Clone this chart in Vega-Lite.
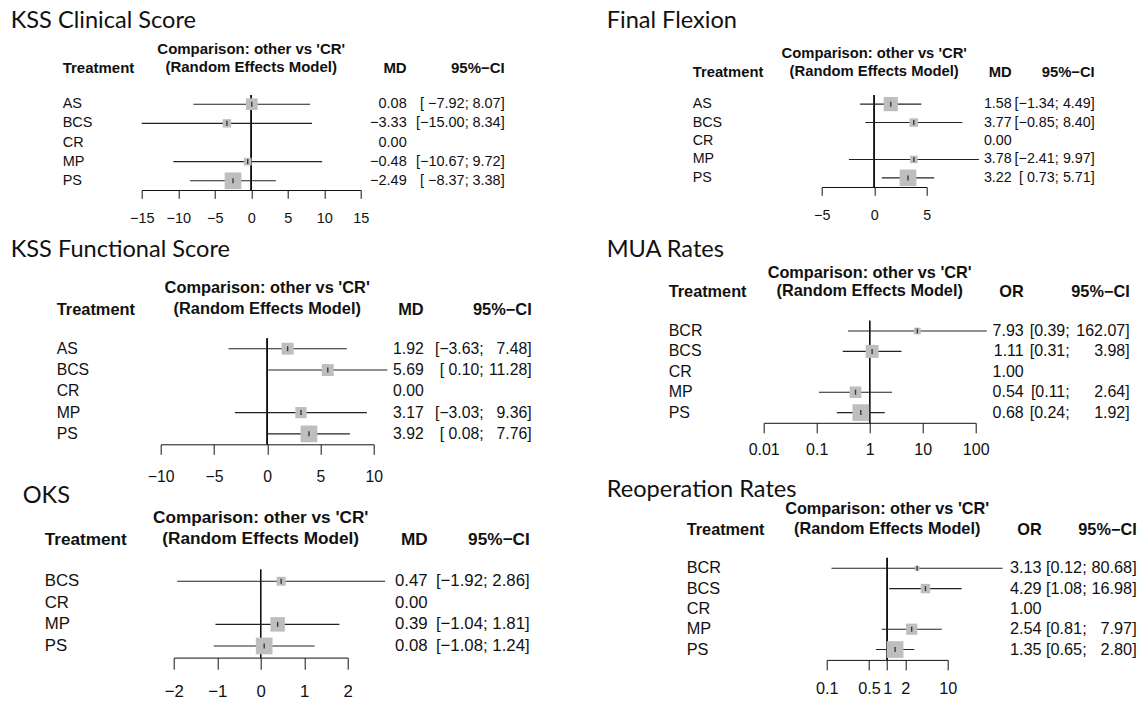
{
  "$schema": "https://vega.github.io/schema/vega-lite/v6.json",
  "autosize": {"type": "pad"},
  "padding": {"left": 10.7, "top": 8, "right": 0, "bottom": 0},
  "background": "white",
  "config": {
    "view": {"stroke": null},
    "axis": {"grid": false, "labelFont": "Liberation Sans", "labelColor": "#111", "domainColor": "#111", "tickColor": "#111", "labelFlush": false, "labelOverlap": false, "domainWidth": 1, "tickWidth": 1}
  },
  "datasets": {
    "A": [
      {"t": "AS", "est": 0.08, "lo": -7.92, "hi": 8.07, "w": 49, "md": "0.08", "cil": "[ −7.92;", "ciu": "8.07]"},
      {"t": "BCS", "est": -3.33, "lo": -15.0, "hi": 8.34, "w": 25, "md": "−3.33", "cil": "[−15.00;", "ciu": "8.34]"},
      {"t": "CR", "est": 0, "lo": null, "hi": null, "w": null, "md": "0.00", "cil": "", "ciu": ""},
      {"t": "MP", "est": -0.48, "lo": -10.67, "hi": 9.72, "w": 21, "md": "−0.48", "cil": "[−10.67;", "ciu": "9.72]"},
      {"t": "PS", "est": -2.49, "lo": -8.37, "hi": 3.38, "w": 100, "md": "−2.49", "cil": "[ −8.37;", "ciu": "3.38]"}
    ],
    "B": [
      {"t": "AS", "est": 1.58, "lo": -1.34, "hi": 4.49, "w": 72, "md": "1.58", "cil": "[−1.34;", "ciu": "4.49]"},
      {"t": "BCS", "est": 3.77, "lo": -0.85, "hi": 8.4, "w": 26, "md": "3.77", "cil": "[−0.85;", "ciu": "8.40]"},
      {"t": "CR", "est": 0, "lo": null, "hi": null, "w": null, "md": "0.00", "cil": "", "ciu": ""},
      {"t": "MP", "est": 3.78, "lo": -2.41, "hi": 9.97, "w": 20, "md": "3.78", "cil": "[−2.41;", "ciu": "9.97]"},
      {"t": "PS", "est": 3.22, "lo": 0.73, "hi": 5.71, "w": 100, "md": "3.22", "cil": "[ 0.73;", "ciu": "5.71]"}
    ],
    "C": [
      {"t": "AS", "est": 1.92, "lo": -3.63, "hi": 7.48, "w": 51, "md": "1.92", "cil": "[−3.63;", "ciu": "7.48]"},
      {"t": "BCS", "est": 5.69, "lo": 0.1, "hi": 11.28, "w": 51, "md": "5.69", "cil": "[ 0.10;", "ciu": "11.28]"},
      {"t": "CR", "est": 0, "lo": null, "hi": null, "w": null, "md": "0.00", "cil": "", "ciu": ""},
      {"t": "MP", "est": 3.17, "lo": -3.03, "hi": 9.36, "w": 45, "md": "3.17", "cil": "[−3.03;", "ciu": "9.36]"},
      {"t": "PS", "est": 3.92, "lo": 0.08, "hi": 7.76, "w": 100, "md": "3.92", "cil": "[ 0.08;", "ciu": "7.76]"}
    ],
    "D": [
      {"t": "BCR", "est": 7.93, "lo": 0.39, "hi": 162.07, "w": 16, "md": "7.93", "cil": "[0.39;", "ciu": "162.07]"},
      {"t": "BCS", "est": 1.11, "lo": 0.31, "hi": 3.98, "w": 60, "md": "1.11", "cil": "[0.31;", "ciu": "3.98]"},
      {"t": "CR", "est": 1, "lo": null, "hi": null, "w": null, "md": "1.00", "cil": "", "ciu": ""},
      {"t": "MP", "est": 0.54, "lo": 0.11, "hi": 2.64, "w": 48, "md": "0.54", "cil": "[0.11;", "ciu": "2.64]"},
      {"t": "PS", "est": 0.68, "lo": 0.24, "hi": 1.92, "w": 100, "md": "0.68", "cil": "[0.24;", "ciu": "1.92]"}
    ],
    "E": [
      {"t": "BCS", "est": 0.47, "lo": -1.92, "hi": 2.86, "w": 29, "md": "0.47", "cil": "[−1.92;", "ciu": "2.86]"},
      {"t": "CR", "est": 0, "lo": null, "hi": null, "w": null, "md": "0.00", "cil": "", "ciu": ""},
      {"t": "MP", "est": 0.39, "lo": -1.04, "hi": 1.81, "w": 75, "md": "0.39", "cil": "[−1.04;", "ciu": "1.81]"},
      {"t": "PS", "est": 0.08, "lo": -1.08, "hi": 1.24, "w": 100, "md": "0.08", "cil": "[−1.08;", "ciu": "1.24]"}
    ],
    "F": [
      {"t": "BCR", "est": 3.13, "lo": 0.12, "hi": 80.68, "w": 8, "md": "3.13", "cil": "[0.12;", "ciu": "80.68]"},
      {"t": "BCS", "est": 4.29, "lo": 1.08, "hi": 16.98, "w": 32, "md": "4.29", "cil": "[1.08;", "ciu": "16.98]"},
      {"t": "CR", "est": 1, "lo": null, "hi": null, "w": null, "md": "1.00", "cil": "", "ciu": ""},
      {"t": "MP", "est": 2.54, "lo": 0.81, "hi": 7.97, "w": 45, "md": "2.54", "cil": "[0.81;", "ciu": "7.97]"},
      {"t": "PS", "est": 1.35, "lo": 0.65, "hi": 2.8, "w": 100, "md": "1.35", "cil": "[0.65;", "ciu": "2.80]"}
    ]
  },
  "spacing": 75,
  "hconcat": [
    {
      "spacing": 12.3,
      "vconcat": [
        {
          "title": {"text": "KSS Clinical Score", "anchor": "start", "frame": "group", "font": "Lato", "fontSize": 23.6, "fontWeight": "normal", "color": "#111", "offset": 9.1},
          "bounds": "flush", "spacing": 79,
          "hconcat": [
            {"width": 52, "height": 95, "data": {"name": "A"},
             "title": {"text": "Treatment", "anchor": "end", "align": "left", "frame": "group", "offset": 19.25, "font": "Liberation Sans", "fontSize": 15, "fontWeight": "bold", "color": "#111"},
             "mark": {"type": "text", "x": "width", "align": "left", "baseline": "middle", "font": "Liberation Sans", "fontSize": 14.5, "color": "#111"},
             "encoding": {"y": {"field": "t", "type": "nominal", "axis": null, "scale": {"type": "point", "padding": 0.48, "domain": ["AS", "BCS", "CR", "MP", "PS"]}}, "text": {"field": "t"}}},
            {"bounds": "flush", "spacing": 0, "hconcat": [
              {"width": 219, "height": 95, "data": {"name": "A"},
               "title": {"text": ["Comparison: other vs 'CR'", "(Random Effects Model)"], "anchor": "middle", "frame": "group", "offset": 19.25, "lineHeight": 18.4, "font": "Liberation Sans", "fontSize": 15, "fontWeight": "bold", "color": "#111"},
               "layer": [
                 {"mark": {"type": "rule", "color": "#111", "strokeWidth": 1},
                  "encoding": {"x": {"datum": 0, "type": "quantitative", "title": null, "scale": {"domain": [-15, 15], "nice": false, "zero": false},
                    "axis": {"title": null, "values": [-15, -10, -5, 0, 5, 10, 15], "tickCount": 20, "format": "d", "tickSize": 8.3, "labelPadding": 13, "labelFontSize": 14.5, "labelOverlap": false, "labelFlush": false}}}},
                 {"transform": [{"filter": "datum.lo != null"}], "mark": {"type": "rule", "color": "#222", "strokeWidth": 1.1},
                  "encoding": {"x": {"field": "lo", "type": "quantitative", "title": null}, "x2": {"field": "hi"},
                    "y": {"field": "t", "type": "nominal", "axis": null, "scale": {"type": "point", "padding": 0.48, "domain": ["AS", "BCS", "CR", "MP", "PS"]}}}},
                 {"transform": [{"filter": "datum.lo != null"}], "mark": {"type": "point", "shape": "square", "filled": true, "color": "#bebebe", "opacity": 1, "strokeWidth": 0},
                  "encoding": {"x": {"field": "est", "type": "quantitative", "title": null},
                    "y": {"field": "t", "type": "nominal", "axis": null},
                    "size": {"field": "w", "type": "quantitative", "legend": null, "scale": {"domain": [0, 100], "range": [0, 279]}}}},
                 {"transform": [{"filter": "datum.lo != null"}], "mark": {"type": "tick", "orient": "vertical", "size": 5, "thickness": 1.4, "color": "#000"},
                  "encoding": {"x": {"field": "est", "type": "quantitative", "title": null}, "y": {"field": "t", "type": "nominal", "axis": null}}}
               ]},
              {"width": 46, "height": 95, "data": {"name": "A"},
               "title": {"text": "MD", "anchor": "end", "frame": "group", "offset": 19.25, "font": "Liberation Sans", "fontSize": 15, "fontWeight": "bold", "color": "#111"},
               "mark": {"type": "text", "x": "width", "align": "right", "baseline": "middle", "font": "Liberation Sans", "fontSize": 14.5, "color": "#111"},
               "encoding": {"y": {"field": "t", "type": "nominal", "axis": null, "scale": {"type": "point", "padding": 0.48, "domain": ["AS", "BCS", "CR", "MP", "PS"]}}, "text": {"field": "md"}}},
              {"width": 62, "height": 95, "data": {"name": "A"},
               "mark": {"type": "text", "x": "width", "align": "right", "baseline": "middle", "font": "Liberation Sans", "fontSize": 14.5, "color": "#111"},
               "encoding": {"y": {"field": "t", "type": "nominal", "axis": null, "scale": {"type": "point", "padding": 0.48, "domain": ["AS", "BCS", "CR", "MP", "PS"]}}, "text": {"field": "cil"}}},
              {"width": 36, "height": 95, "data": {"name": "A"},
               "title": {"text": "95%−CI", "anchor": "end", "frame": "group", "offset": 19.25, "font": "Liberation Sans", "fontSize": 15, "fontWeight": "bold", "color": "#111"},
               "mark": {"type": "text", "x": "width", "align": "right", "baseline": "middle", "font": "Liberation Sans", "fontSize": 14.5, "color": "#111"},
               "encoding": {"y": {"field": "t", "type": "nominal", "axis": null, "scale": {"type": "point", "padding": 0.48, "domain": ["AS", "BCS", "CR", "MP", "PS"]}}, "text": {"field": "ciu"}}}
            ]}
          ]
        },
        {
          "spacing": -0.7,
          "vconcat": [
            {
              "title": {"text": "KSS Functional Score", "anchor": "start", "frame": "group", "font": "Lato", "fontSize": 23.6, "fontWeight": "normal", "color": "#111", "offset": 19},
              "bounds": "flush", "spacing": 104,
              "hconcat": [
                {"width": 46, "height": 106, "data": {"name": "C"},
                 "title": {"text": "Treatment", "anchor": "end", "align": "left", "frame": "group", "offset": 20, "font": "Liberation Sans", "fontSize": 16.4, "fontWeight": "bold", "color": "#111"},
                 "mark": {"type": "text", "x": "width", "align": "left", "baseline": "middle", "font": "Liberation Sans", "fontSize": 15.8, "color": "#111"},
                 "encoding": {"y": {"field": "t", "type": "nominal", "axis": null, "scale": {"type": "point", "padding": 0.49, "domain": ["AS", "BCS", "CR", "MP", "PS"]}}, "text": {"field": "t"}}},
                {"bounds": "flush", "spacing": 0, "hconcat": [
                  {"width": 213, "height": 106, "data": {"name": "C"},
                   "title": {"text": ["Comparison: other vs 'CR'", "(Random Effects Model)"], "anchor": "middle", "frame": "group", "offset": 20, "lineHeight": 21, "font": "Liberation Sans", "fontSize": 16.4, "fontWeight": "bold", "color": "#111"},
                   "layer": [
                     {"mark": {"type": "rule", "color": "#111", "strokeWidth": 1},
                      "encoding": {"x": {"datum": 0, "type": "quantitative", "title": null, "scale": {"domain": [-10, 10], "nice": false, "zero": false},
                        "axis": {"title": null, "values": [-10, -5, 0, 5, 10], "tickCount": 20, "format": "d", "tickSize": 10, "labelPadding": 14.8, "labelFontSize": 15.8, "labelOverlap": false, "labelFlush": false}}}},
                     {"transform": [{"filter": "datum.lo != null"}], "mark": {"type": "rule", "color": "#222", "strokeWidth": 1.1},
                      "encoding": {"x": {"field": "lo", "type": "quantitative", "title": null}, "x2": {"field": "hi"},
                        "y": {"field": "t", "type": "nominal", "axis": null, "scale": {"type": "point", "padding": 0.49, "domain": ["AS", "BCS", "CR", "MP", "PS"]}}}},
                     {"transform": [{"filter": "datum.lo != null"}], "mark": {"type": "point", "shape": "square", "filled": true, "color": "#bebebe", "opacity": 1, "strokeWidth": 0},
                      "encoding": {"x": {"field": "est", "type": "quantitative", "title": null},
                        "y": {"field": "t", "type": "nominal", "axis": null},
                        "size": {"field": "w", "type": "quantitative", "legend": null, "scale": {"domain": [0, 100], "range": [0, 256]}}}},
                     {"transform": [{"filter": "datum.lo != null"}], "mark": {"type": "tick", "orient": "vertical", "size": 5, "thickness": 1.4, "color": "#000"},
                      "encoding": {"x": {"field": "est", "type": "quantitative", "title": null}, "y": {"field": "t", "type": "nominal", "axis": null}}}
                   ]},
                  {"width": 50, "height": 106, "data": {"name": "C"},
                   "title": {"text": "MD", "anchor": "end", "frame": "group", "offset": 20, "font": "Liberation Sans", "fontSize": 16.4, "fontWeight": "bold", "color": "#111"},
                   "mark": {"type": "text", "x": "width", "align": "right", "baseline": "middle", "font": "Liberation Sans", "fontSize": 15.8, "color": "#111"},
                   "encoding": {"y": {"field": "t", "type": "nominal", "axis": null, "scale": {"type": "point", "padding": 0.49, "domain": ["AS", "BCS", "CR", "MP", "PS"]}}, "text": {"field": "md"}}},
                  {"width": 60, "height": 106, "data": {"name": "C"},
                   "mark": {"type": "text", "x": "width", "align": "right", "baseline": "middle", "font": "Liberation Sans", "fontSize": 15.8, "color": "#111"},
                   "encoding": {"y": {"field": "t", "type": "nominal", "axis": null, "scale": {"type": "point", "padding": 0.49, "domain": ["AS", "BCS", "CR", "MP", "PS"]}}, "text": {"field": "cil"}}},
                  {"width": 48, "height": 106, "data": {"name": "C"},
                   "title": {"text": "95%−CI", "anchor": "end", "frame": "group", "offset": 20, "font": "Liberation Sans", "fontSize": 16.4, "fontWeight": "bold", "color": "#111"},
                   "mark": {"type": "text", "x": "width", "align": "right", "baseline": "middle", "font": "Liberation Sans", "fontSize": 15.8, "color": "#111"},
                   "encoding": {"y": {"field": "t", "type": "nominal", "axis": null, "scale": {"type": "point", "padding": 0.49, "domain": ["AS", "BCS", "CR", "MP", "PS"]}}, "text": {"field": "ciu"}}}
                ]}
              ]
            },
            {
              "title": {"text": "OKS", "anchor": "start", "frame": "group", "font": "Lato", "fontSize": 23.6, "fontWeight": "normal", "color": "#111", "offset": 1.3, "dx": 12},
              "bounds": "flush", "spacing": 129,
              "hconcat": [
                {"width": 34, "height": 88, "data": {"name": "E"},
                 "title": {"text": "Treatment", "anchor": "end", "align": "left", "frame": "group", "offset": 21.5, "font": "Liberation Sans", "fontSize": 17.2, "fontWeight": "bold", "color": "#111"},
                 "mark": {"type": "text", "x": "width", "align": "left", "baseline": "middle", "font": "Liberation Sans", "fontSize": 16.8, "color": "#111"},
                 "encoding": {"y": {"field": "t", "type": "nominal", "axis": null, "scale": {"type": "point", "padding": 0.54, "domain": ["BCS", "CR", "MP", "PS"]}}, "text": {"field": "t"}}},
                {"bounds": "flush", "spacing": 0, "hconcat": [
                  {"width": 174, "height": 88, "data": {"name": "E"},
                   "title": {"text": ["Comparison: other vs 'CR'", "(Random Effects Model)"], "anchor": "middle", "frame": "group", "offset": 21.5, "lineHeight": 21.6, "font": "Liberation Sans", "fontSize": 17.2, "fontWeight": "bold", "color": "#111"},
                   "layer": [
                     {"mark": {"type": "rule", "color": "#111", "strokeWidth": 1},
                      "encoding": {"x": {"datum": 0, "type": "quantitative", "title": null, "scale": {"domain": [-2, 2], "nice": false, "zero": false},
                        "axis": {"title": null, "values": [-2, -1, 0, 1, 2], "tickCount": 20, "format": "d", "tickSize": 11.6, "labelPadding": 14, "labelFontSize": 16.8, "labelOverlap": false, "labelFlush": false}}}},
                     {"transform": [{"filter": "datum.lo != null"}], "mark": {"type": "rule", "color": "#222", "strokeWidth": 1.1},
                      "encoding": {"x": {"field": "lo", "type": "quantitative", "title": null}, "x2": {"field": "hi"},
                        "y": {"field": "t", "type": "nominal", "axis": null, "scale": {"type": "point", "padding": 0.54, "domain": ["BCS", "CR", "MP", "PS"]}}}},
                     {"transform": [{"filter": "datum.lo != null"}], "mark": {"type": "point", "shape": "square", "filled": true, "color": "#bebebe", "opacity": 1, "strokeWidth": 0},
                      "encoding": {"x": {"field": "est", "type": "quantitative", "title": null},
                        "y": {"field": "t", "type": "nominal", "axis": null},
                        "size": {"field": "w", "type": "quantitative", "legend": null, "scale": {"domain": [0, 100], "range": [0, 299]}}}},
                     {"transform": [{"filter": "datum.lo != null"}], "mark": {"type": "tick", "orient": "vertical", "size": 5, "thickness": 1.4, "color": "#000"},
                      "encoding": {"x": {"field": "est", "type": "quantitative", "title": null}, "y": {"field": "t", "type": "nominal", "axis": null}}}
                   ]},
                  {"width": 80, "height": 88, "data": {"name": "E"},
                   "title": {"text": "MD", "anchor": "end", "frame": "group", "offset": 21.5, "font": "Liberation Sans", "fontSize": 17.2, "fontWeight": "bold", "color": "#111"},
                   "mark": {"type": "text", "x": "width", "align": "right", "baseline": "middle", "font": "Liberation Sans", "fontSize": 16.8, "color": "#111"},
                   "encoding": {"y": {"field": "t", "type": "nominal", "axis": null, "scale": {"type": "point", "padding": 0.54, "domain": ["BCS", "CR", "MP", "PS"]}}, "text": {"field": "md"}}},
                  {"width": 60, "height": 88, "data": {"name": "E"},
                   "mark": {"type": "text", "x": "width", "align": "right", "baseline": "middle", "font": "Liberation Sans", "fontSize": 16.8, "color": "#111"},
                   "encoding": {"y": {"field": "t", "type": "nominal", "axis": null, "scale": {"type": "point", "padding": 0.54, "domain": ["BCS", "CR", "MP", "PS"]}}, "text": {"field": "cil"}}},
                  {"width": 42, "height": 88, "data": {"name": "E"},
                   "title": {"text": "95%−CI", "anchor": "end", "frame": "group", "offset": 21.5, "font": "Liberation Sans", "fontSize": 17.2, "fontWeight": "bold", "color": "#111"},
                   "mark": {"type": "text", "x": "width", "align": "right", "baseline": "middle", "font": "Liberation Sans", "fontSize": 16.8, "color": "#111"},
                   "encoding": {"y": {"field": "t", "type": "nominal", "axis": null, "scale": {"type": "point", "padding": 0.54, "domain": ["BCS", "CR", "MP", "PS"]}}, "text": {"field": "ciu"}}}
                ]}
              ]
            }
          ]
        }
      ]
    },
    {
      "spacing": 14.8,
      "vconcat": [
        {
          "title": {"text": "Final Flexion", "anchor": "start", "frame": "group", "font": "Lato", "fontSize": 23.6, "fontWeight": "normal", "color": "#111", "offset": 13.6},
          "bounds": "flush", "spacing": 129,
          "hconcat": [
            {"width": 86, "height": 92, "data": {"name": "B"},
             "title": {"text": "Treatment", "anchor": "end", "align": "left", "frame": "group", "offset": 15.7, "font": "Liberation Sans", "fontSize": 14.8, "fontWeight": "bold", "color": "#111"},
             "mark": {"type": "text", "x": "width", "align": "left", "baseline": "middle", "font": "Liberation Sans", "fontSize": 14.3, "color": "#111"},
             "encoding": {"y": {"field": "t", "type": "nominal", "axis": null, "scale": {"type": "point", "padding": 0.495, "domain": ["AS", "BCS", "CR", "MP", "PS"]}}, "text": {"field": "t"}}},
            {"bounds": "flush", "spacing": 0, "hconcat": [
              {"width": 105, "height": 92, "data": {"name": "B"},
               "title": {"text": ["Comparison: other vs 'CR'", "(Random Effects Model)"], "anchor": "middle", "frame": "group", "offset": 15.7, "lineHeight": 18, "font": "Liberation Sans", "fontSize": 14.8, "fontWeight": "bold", "color": "#111"},
               "layer": [
                 {"mark": {"type": "rule", "color": "#111", "strokeWidth": 1},
                  "encoding": {"x": {"datum": 0, "type": "quantitative", "title": null, "scale": {"domain": [-5, 5], "nice": false, "zero": false},
                    "axis": {"title": null, "values": [-5, 0, 5], "tickCount": 20, "format": "d", "tickSize": 8.3, "labelPadding": 13.4, "labelFontSize": 14.3, "labelOverlap": false, "labelFlush": false}}}},
                 {"transform": [{"filter": "datum.lo != null"}], "mark": {"type": "rule", "color": "#222", "strokeWidth": 1.1},
                  "encoding": {"x": {"field": "lo", "type": "quantitative", "title": null}, "x2": {"field": "hi"},
                    "y": {"field": "t", "type": "nominal", "axis": null, "scale": {"type": "point", "padding": 0.495, "domain": ["AS", "BCS", "CR", "MP", "PS"]}}}},
                 {"transform": [{"filter": "datum.lo != null"}], "mark": {"type": "point", "shape": "square", "filled": true, "color": "#bebebe", "opacity": 1, "strokeWidth": 0},
                  "encoding": {"x": {"field": "est", "type": "quantitative", "title": null},
                    "y": {"field": "t", "type": "nominal", "axis": null},
                    "size": {"field": "w", "type": "quantitative", "legend": null, "scale": {"domain": [0, 100], "range": [0, 225]}}}},
                 {"transform": [{"filter": "datum.lo != null"}], "mark": {"type": "tick", "orient": "vertical", "size": 5, "thickness": 1.4, "color": "#000"},
                  "encoding": {"x": {"field": "est", "type": "quantitative", "title": null}, "y": {"field": "t", "type": "nominal", "axis": null}}}
               ]},
              {"width": 85, "height": 92, "data": {"name": "B"},
               "title": {"text": "MD", "anchor": "end", "frame": "group", "offset": 15.7, "font": "Liberation Sans", "fontSize": 14.8, "fontWeight": "bold", "color": "#111"},
               "mark": {"type": "text", "x": "width", "align": "right", "baseline": "middle", "font": "Liberation Sans", "fontSize": 14.3, "color": "#111"},
               "encoding": {"y": {"field": "t", "type": "nominal", "axis": null, "scale": {"type": "point", "padding": 0.495, "domain": ["AS", "BCS", "CR", "MP", "PS"]}}, "text": {"field": "md"}}},
              {"width": 47, "height": 92, "data": {"name": "B"},
               "mark": {"type": "text", "x": "width", "align": "right", "baseline": "middle", "font": "Liberation Sans", "fontSize": 14.3, "color": "#111"},
               "encoding": {"y": {"field": "t", "type": "nominal", "axis": null, "scale": {"type": "point", "padding": 0.495, "domain": ["AS", "BCS", "CR", "MP", "PS"]}}, "text": {"field": "cil"}}},
              {"width": 36, "height": 92, "data": {"name": "B"},
               "title": {"text": "95%−CI", "anchor": "end", "frame": "group", "offset": 15.7, "font": "Liberation Sans", "fontSize": 14.8, "fontWeight": "bold", "color": "#111"},
               "mark": {"type": "text", "x": "width", "align": "right", "baseline": "middle", "font": "Liberation Sans", "fontSize": 14.3, "color": "#111"},
               "encoding": {"y": {"field": "t", "type": "nominal", "axis": null, "scale": {"type": "point", "padding": 0.495, "domain": ["AS", "BCS", "CR", "MP", "PS"]}}, "text": {"field": "ciu"}}}
            ]}
          ]
        },
        {
          "spacing": 20.1,
          "vconcat": [
            {
              "title": {"text": "MUA Rates", "anchor": "start", "frame": "group", "font": "Lato", "fontSize": 23.6, "fontWeight": "normal", "color": "#111", "offset": 3},
              "bounds": "flush", "spacing": 95,
              "hconcat": [
                {"width": 62, "height": 102, "data": {"name": "D"},
                 "title": {"text": "Treatment", "anchor": "end", "align": "left", "frame": "group", "offset": 20.9, "font": "Liberation Sans", "fontSize": 16.3, "fontWeight": "bold", "color": "#111"},
                 "mark": {"type": "text", "x": "width", "align": "left", "baseline": "middle", "font": "Liberation Sans", "fontSize": 16, "color": "#111"},
                 "encoding": {"y": {"field": "t", "type": "nominal", "axis": null, "scale": {"type": "point", "padding": 0.5, "domain": ["BCR", "BCS", "CR", "MP", "PS"]}}, "text": {"field": "t"}}},
                {"bounds": "flush", "spacing": 0, "hconcat": [
                  {"width": 212, "height": 102, "data": {"name": "D"},
                   "title": {"text": ["Comparison: other vs 'CR'", "(Random Effects Model)"], "anchor": "middle", "frame": "group", "offset": 20.9, "lineHeight": 18.3, "font": "Liberation Sans", "fontSize": 16.3, "fontWeight": "bold", "color": "#111"},
                   "layer": [
                     {"mark": {"type": "rule", "color": "#111", "strokeWidth": 1},
                      "encoding": {"x": {"datum": 1, "type": "quantitative", "title": null, "scale": {"type": "log", "domain": [0.01, 100], "nice": false},
                        "axis": {"title": null, "values": [0.01, 0.1, 1, 10, 100], "tickCount": 20, "format": "~g", "tickSize": 10, "labelPadding": 9, "labelFontSize": 16, "labelOverlap": false, "labelFlush": false}}}},
                     {"transform": [{"filter": "datum.lo != null"}], "mark": {"type": "rule", "color": "#222", "strokeWidth": 1.1},
                      "encoding": {"x": {"field": "lo", "type": "quantitative", "title": null}, "x2": {"field": "hi"},
                        "y": {"field": "t", "type": "nominal", "axis": null, "scale": {"type": "point", "padding": 0.5, "domain": ["BCR", "BCS", "CR", "MP", "PS"]}}}},
                     {"transform": [{"filter": "datum.lo != null"}], "mark": {"type": "point", "shape": "square", "filled": true, "color": "#bebebe", "opacity": 1, "strokeWidth": 0},
                      "encoding": {"x": {"field": "est", "type": "quantitative", "title": null},
                        "y": {"field": "t", "type": "nominal", "axis": null},
                        "size": {"field": "w", "type": "quantitative", "legend": null, "scale": {"domain": [0, 100], "range": [0, 289]}}}},
                     {"transform": [{"filter": "datum.lo != null"}], "mark": {"type": "tick", "orient": "vertical", "size": 5, "thickness": 1.4, "color": "#000"},
                      "encoding": {"x": {"field": "est", "type": "quantitative", "title": null}, "y": {"field": "t", "type": "nominal", "axis": null}}}
                   ]},
                  {"width": 48, "height": 102, "data": {"name": "D"},
                   "title": {"text": "OR", "anchor": "end", "frame": "group", "offset": 20.9, "font": "Liberation Sans", "fontSize": 16.3, "fontWeight": "bold", "color": "#111"},
                   "mark": {"type": "text", "x": "width", "align": "right", "baseline": "middle", "font": "Liberation Sans", "fontSize": 16, "color": "#111"},
                   "encoding": {"y": {"field": "t", "type": "nominal", "axis": null, "scale": {"type": "point", "padding": 0.5, "domain": ["BCR", "BCS", "CR", "MP", "PS"]}}, "text": {"field": "md"}}},
                  {"width": 46, "height": 102, "data": {"name": "D"},
                   "mark": {"type": "text", "x": "width", "align": "right", "baseline": "middle", "font": "Liberation Sans", "fontSize": 16, "color": "#111"},
                   "encoding": {"y": {"field": "t", "type": "nominal", "axis": null, "scale": {"type": "point", "padding": 0.5, "domain": ["BCR", "BCS", "CR", "MP", "PS"]}}, "text": {"field": "cil"}}},
                  {"width": 60, "height": 102, "data": {"name": "D"},
                   "title": {"text": "95%−CI", "anchor": "end", "frame": "group", "offset": 20.9, "font": "Liberation Sans", "fontSize": 16.3, "fontWeight": "bold", "color": "#111"},
                   "mark": {"type": "text", "x": "width", "align": "right", "baseline": "middle", "font": "Liberation Sans", "fontSize": 16, "color": "#111"},
                   "encoding": {"y": {"field": "t", "type": "nominal", "axis": null, "scale": {"type": "point", "padding": 0.5, "domain": ["BCR", "BCS", "CR", "MP", "PS"]}}, "text": {"field": "ciu"}}}
                ]}
              ]
            },
            {
              "title": {"text": "Reoperation Rates", "anchor": "start", "frame": "group", "font": "Lato", "fontSize": 23.6, "fontWeight": "normal", "color": "#111", "offset": -1},
              "bounds": "flush", "spacing": 140,
              "hconcat": [
                {"width": 80, "height": 102, "data": {"name": "F"},
                 "title": {"text": "Treatment", "anchor": "end", "align": "left", "frame": "group", "offset": 20, "font": "Liberation Sans", "fontSize": 16.3, "fontWeight": "bold", "color": "#111"},
                 "mark": {"type": "text", "x": "width", "align": "left", "baseline": "middle", "font": "Liberation Sans", "fontSize": 16.3, "color": "#111"},
                 "encoding": {"y": {"field": "t", "type": "nominal", "axis": null, "scale": {"type": "point", "padding": 0.51, "domain": ["BCR", "BCS", "CR", "MP", "PS"]}}, "text": {"field": "t"}}},
                {"bounds": "flush", "spacing": 0, "hconcat": [
                  {"width": 121, "height": 102, "data": {"name": "F"},
                   "title": {"text": ["Comparison: other vs 'CR'", "(Random Effects Model)"], "anchor": "middle", "frame": "group", "offset": 20, "lineHeight": 20, "font": "Liberation Sans", "fontSize": 16.3, "fontWeight": "bold", "color": "#111"},
                   "layer": [
                     {"mark": {"type": "rule", "color": "#111", "strokeWidth": 1},
                      "encoding": {"x": {"datum": 1, "type": "quantitative", "title": null, "scale": {"type": "log", "domain": [0.1, 10], "nice": false},
                        "axis": {"title": null, "values": [0.1, 0.5, 1, 2, 10], "tickCount": 20, "format": "~g", "tickSize": 10, "labelPadding": 11, "labelFontSize": 16.3, "labelOverlap": false, "labelFlush": false}}}},
                     {"transform": [{"filter": "datum.lo != null"}], "mark": {"type": "rule", "color": "#222", "strokeWidth": 1.1},
                      "encoding": {"x": {"field": "lo", "type": "quantitative", "title": null}, "x2": {"field": "hi"},
                        "y": {"field": "t", "type": "nominal", "axis": null, "scale": {"type": "point", "padding": 0.51, "domain": ["BCR", "BCS", "CR", "MP", "PS"]}}}},
                     {"transform": [{"filter": "datum.lo != null"}], "mark": {"type": "point", "shape": "square", "filled": true, "color": "#bebebe", "opacity": 1, "strokeWidth": 0},
                      "encoding": {"x": {"field": "est", "type": "quantitative", "title": null},
                        "y": {"field": "t", "type": "nominal", "axis": null},
                        "size": {"field": "w", "type": "quantitative", "legend": null, "scale": {"domain": [0, 100], "range": [0, 256]}}}},
                     {"transform": [{"filter": "datum.lo != null"}], "mark": {"type": "tick", "orient": "vertical", "size": 5, "thickness": 1.4, "color": "#000"},
                      "encoding": {"x": {"field": "est", "type": "quantitative", "title": null}, "y": {"field": "t", "type": "nominal", "axis": null}}}
                   ]},
                  {"width": 94, "height": 102, "data": {"name": "F"},
                   "title": {"text": "OR", "anchor": "end", "frame": "group", "offset": 20, "font": "Liberation Sans", "fontSize": 16.3, "fontWeight": "bold", "color": "#111"},
                   "mark": {"type": "text", "x": "width", "align": "right", "baseline": "middle", "font": "Liberation Sans", "fontSize": 16.3, "color": "#111"},
                   "encoding": {"y": {"field": "t", "type": "nominal", "axis": null, "scale": {"type": "point", "padding": 0.51, "domain": ["BCR", "BCS", "CR", "MP", "PS"]}}, "text": {"field": "md"}}},
                  {"width": 45, "height": 102, "data": {"name": "F"},
                   "mark": {"type": "text", "x": "width", "align": "right", "baseline": "middle", "font": "Liberation Sans", "fontSize": 16.3, "color": "#111"},
                   "encoding": {"y": {"field": "t", "type": "nominal", "axis": null, "scale": {"type": "point", "padding": 0.51, "domain": ["BCR", "BCS", "CR", "MP", "PS"]}}, "text": {"field": "cil"}}},
                  {"width": 50, "height": 102, "data": {"name": "F"},
                   "title": {"text": "95%−CI", "anchor": "end", "frame": "group", "offset": 20, "font": "Liberation Sans", "fontSize": 16.3, "fontWeight": "bold", "color": "#111"},
                   "mark": {"type": "text", "x": "width", "align": "right", "baseline": "middle", "font": "Liberation Sans", "fontSize": 16.3, "color": "#111"},
                   "encoding": {"y": {"field": "t", "type": "nominal", "axis": null, "scale": {"type": "point", "padding": 0.51, "domain": ["BCR", "BCS", "CR", "MP", "PS"]}}, "text": {"field": "ciu"}}}
                ]}
              ]
            }
          ]
        }
      ]
    }
  ]
}
